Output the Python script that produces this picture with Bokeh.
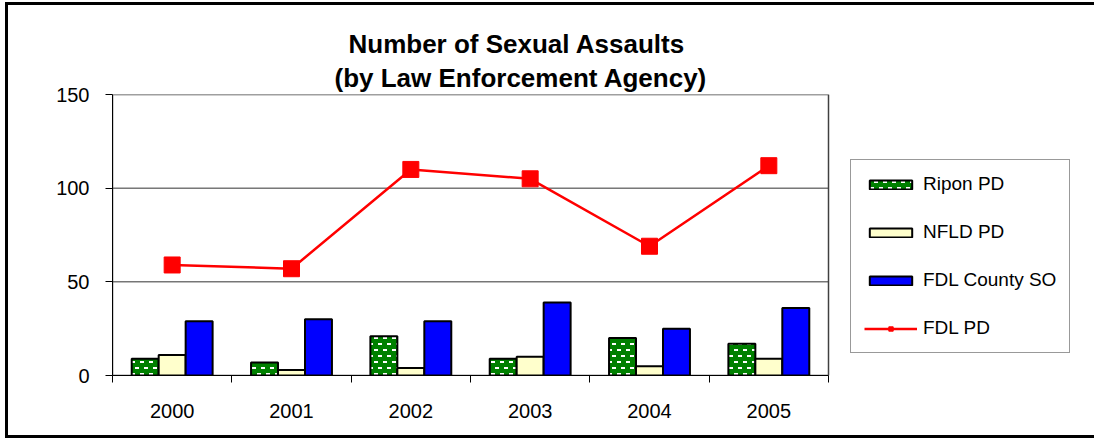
import base64, struct, zlib
from bokeh.plotting import figure
from bokeh.models import (Range1d, FixedTicker, Legend, LegendItem, Title,
                          ColumnDataSource)
from bokeh.models import ImageURLTexture
from bokeh.core.properties import value
from bokeh.embed import file_html
from bokeh.resources import INLINE

years = ["2000", "2001", "2002", "2003", "2004", "2005"]
ripon_pd = [9, 7, 21, 9, 20, 17]
nfld_pd = [11, 3, 4, 10, 5, 9]
fdl_county_so = [29, 30, 29, 39, 25, 36]
fdl_pd = [59, 57, 110, 105, 69, 112]
y_ticks = [0, 50, 100, 150]
grid_values = [50, 100]

FONT = "Liberation Sans"


def make_png(w, h, rows):
    raw = b"".join(b"\x00" + bytes(r) for r in rows)

    def chunk(tag, data):
        c = struct.pack(">I", len(data)) + tag + data
        return c + struct.pack(">I", zlib.crc32(tag + data) & 0xFFFFFFFF)
    ihdr = struct.pack(">IIBBBBB", w, h, 8, 2, 0, 0, 0)
    return (b"\x89PNG\r\n\x1a\n" + chunk(b"IHDR", ihdr) +
            chunk(b"IDAT", zlib.compress(raw)) + chunk(b"IEND", b""))


# green tile with staggered white dashes
TW, TH = 9, 12
green = (0, 128, 0)
white = (255, 255, 255)
rows = []
for yy in range(TH):
    r = []
    for xx in range(TW):
        on = (yy in (2, 3) and 1 <= xx <= 4) or (yy in (8, 9) and (xx >= 6 or xx == 0))
        r.extend(white if on else green)
    rows.append(r)
tex_url = "data:image/png;base64," + base64.b64encode(make_png(TW, TH, rows)).decode()

n = len(years)
centers = [i + 0.5 for i in range(n)]
bw = 0.226

src = ColumnDataSource(dict(
    c=centers,
    x1=[c - bw for c in centers],
    x2=centers,
    x3=[c + bw for c in centers],
    ripon=ripon_pd, nfld=nfld_pd, county=fdl_county_so, fdl=fdl_pd,
))

PLOT_W = 716      # pixel width of the category area
FRAME_W = 966     # frame also hosts the legend on its right

p = figure(frame_width=FRAME_W, frame_height=281,
           output_backend="svg", toolbar_location=None,
           x_range=Range1d(0, n * FRAME_W / PLOT_W), y_range=Range1d(0, 150),
           min_border_left=104, min_border_right=22,
           min_border_top=89, min_border_bottom=60)
p.styles = {"border-left": "3px solid black", "border-top": "3px solid black",
            "border-bottom": "3px solid black", "border-right": "3px solid white",
            "margin-left": "5px", "margin-top": "2px"}

p.outline_line_color = None
p.background_fill_color = "white"
p.border_fill_color = "white"
p.xgrid.grid_line_color = None
p.ygrid.grid_line_color = None

# plot-area box and gridlines
p.segment(x0=0, x1=n, y0=grid_values, y1=grid_values, line_color="#333333", line_width=1)
p.quad(left=0, right=n, bottom=0, top=150, fill_color=None,
       line_color="#404040", line_width=1.5)

# bars
r1 = p.vbar(x="x1", top="ripon", width=bw, bottom=0, source=src,
            fill_color="#008000", line_color="black", line_width=2,
            hatch_pattern=value("dashes"),
            hatch_extra={"dashes": ImageURLTexture(url=tex_url)})
r2 = p.vbar(x="x2", top="nfld", width=bw, bottom=0, source=src,
            fill_color="#FFFFCC", line_color="black", line_width=2)
r3 = p.vbar(x="x3", top="county", width=bw, bottom=0, source=src,
            fill_color="#0000FF", line_color="black", line_width=2)
r4 = p.line(x="c", y="fdl", source=src, line_color="#FF0000", line_width=2.5)
r5 = p.scatter(x="c", y="fdl", source=src, marker="square", size=16,
               fill_color="#FF0000", line_color="#FF0000")

# axes
p.xaxis.bounds = (0, n)
p.xaxis.ticker = FixedTicker(ticks=centers, minor_ticks=list(range(n + 1)))
p.xaxis.major_label_overrides = {c: y for c, y in zip(centers, years)}
p.xaxis.major_tick_out = 0
p.xaxis.major_tick_in = 0
p.xaxis.minor_tick_out = 7
p.xaxis.minor_tick_in = 0
p.xaxis.minor_tick_line_color = "black"
p.xaxis.major_label_standoff = 21
p.yaxis.ticker = FixedTicker(ticks=y_ticks)
p.yaxis.major_tick_out = 7
p.yaxis.major_tick_in = 0
p.yaxis.minor_tick_line_color = None
p.yaxis.major_label_standoff = 16
for ax in (p.xaxis, p.yaxis):
    ax.axis_line_color = "black"
    ax.axis_line_width = 1
    ax.major_tick_line_color = "black"
    ax.major_label_text_font = FONT
    ax.major_label_text_font_size = "20px"
    ax.major_label_text_color = "black"

# title (two lines; first added sits closest to the frame)
p.add_layout(Title(text="(by Law Enforcement Agency)", align="left", offset=222,
                   text_font=FONT, text_font_size="26px", text_font_style="bold",
                   text_color="black", standoff=4), "above")
p.add_layout(Title(text="Number of Sexual Assaults", align="left", offset=236,
                   text_font=FONT, text_font_size="26px", text_font_style="bold",
                   text_color="black", standoff=0), "above")

legend = Legend(items=[
    LegendItem(label="Ripon PD", renderers=[r1]),
    LegendItem(label="NFLD PD", renderers=[r2]),
    LegendItem(label="FDL County SO", renderers=[r3]),
    LegendItem(label="FDL PD", renderers=[r4, r5]),
], location=(738, 22))
legend.glyph_width = 53
legend.glyph_height = 11
legend.label_height = 20
legend.spacing = 26
legend.padding = 13
legend.label_standoff = 6
legend.label_text_font = FONT
legend.label_text_font_size = "19px"
legend.label_text_color = "black"
legend.border_line_color = "#333333"
legend.border_line_width = 1
legend.background_fill_color = "white"
legend.background_fill_alpha = 1
p.add_layout(legend, "center")

open("out.html", "w").write(file_html(p, INLINE))
